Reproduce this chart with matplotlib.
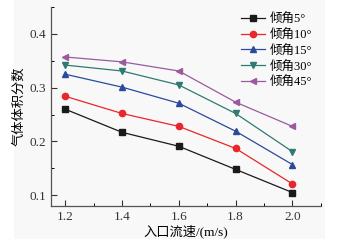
import numpy as np
import matplotlib.pyplot as plt
from matplotlib.ticker import MultipleLocator

plt.rcParams['font.family'] = ['Liberation Serif', 'Noto Sans CJK SC']
plt.rcParams['axes.unicode_minus'] = False

speed = [1.2, 1.4, 1.6, 1.8, 2.0]
labels = ['倾角5°', '倾角10°', '倾角15°', '倾角30°', '倾角45°']
y5 = [0.260, 0.217, 0.191, 0.148, 0.105]
y10 = [0.284, 0.252, 0.228, 0.187, 0.121]
y15 = [0.325, 0.301, 0.271, 0.219, 0.157]
y30 = [0.342, 0.331, 0.305, 0.252, 0.181]
y45 = [0.357, 0.348, 0.331, 0.273, 0.228]

colors = ['#1a1a1a', '#e8262b', '#2b4a9c', '#2f7a72', '#9b5a9e']
markers = ['s', 'o', '^', 'v', '<']

fig = plt.figure(figsize=(3.53, 2.46), dpi=100)
fig.patch.set_facecolor('white')
# faint grey panel behind the chart
fig.patches.append(plt.Rectangle((0.04, 0.03), 0.88, 0.97, transform=fig.transFigure,
                                 facecolor='#f8f8f8', edgecolor='none', zorder=-10))
ax = fig.add_axes([0.1445, 0.1626, 0.7645, 0.809])
ax.set_facecolor('none')

for ys, c, m, lab in zip([y5, y10, y15, y30, y45], colors, markers, labels):
    ax.plot(speed, ys, color=c, marker=m, markersize=4.5, linewidth=0.9, label=lab)

ax.set_xlim(1.15, 2.1)
ax.set_ylim(0.08, 0.45)
ax.xaxis.set_major_locator(MultipleLocator(0.2))
ax.xaxis.set_minor_locator(MultipleLocator(0.1))
ax.yaxis.set_major_locator(MultipleLocator(0.1))
ax.yaxis.set_minor_locator(MultipleLocator(0.05))
ax.set_xticks([1.2, 1.4, 1.6, 1.8, 2.0])
ax.set_xticklabels(['1.2', '1.4', '1.6', '1.8', '2.0'])
ax.tick_params(direction='in', which='major', length=4, width=0.8, labelsize=9.5, colors='#333333')
ax.tick_params(direction='in', which='minor', length=2, width=0.7)
ax.spines['top'].set_visible(False)
ax.spines['right'].set_visible(False)
for s in ['left', 'bottom']:
    ax.spines[s].set_color('#555555')
    ax.spines[s].set_linewidth(0.9)

ax.set_xlabel('入口流速/(m/s)', fontsize=9.5, labelpad=1)
ax.set_ylabel('气体体积分数', fontsize=9.5, labelpad=3)

ax.legend(loc='upper right', frameon=False, fontsize=9, handlelength=1.9,
          labelspacing=0.3, handletextpad=0.35, borderaxespad=0.1,
          bbox_to_anchor=(0.99, 1.0))

fig.savefig('out.png', dpi=100)
